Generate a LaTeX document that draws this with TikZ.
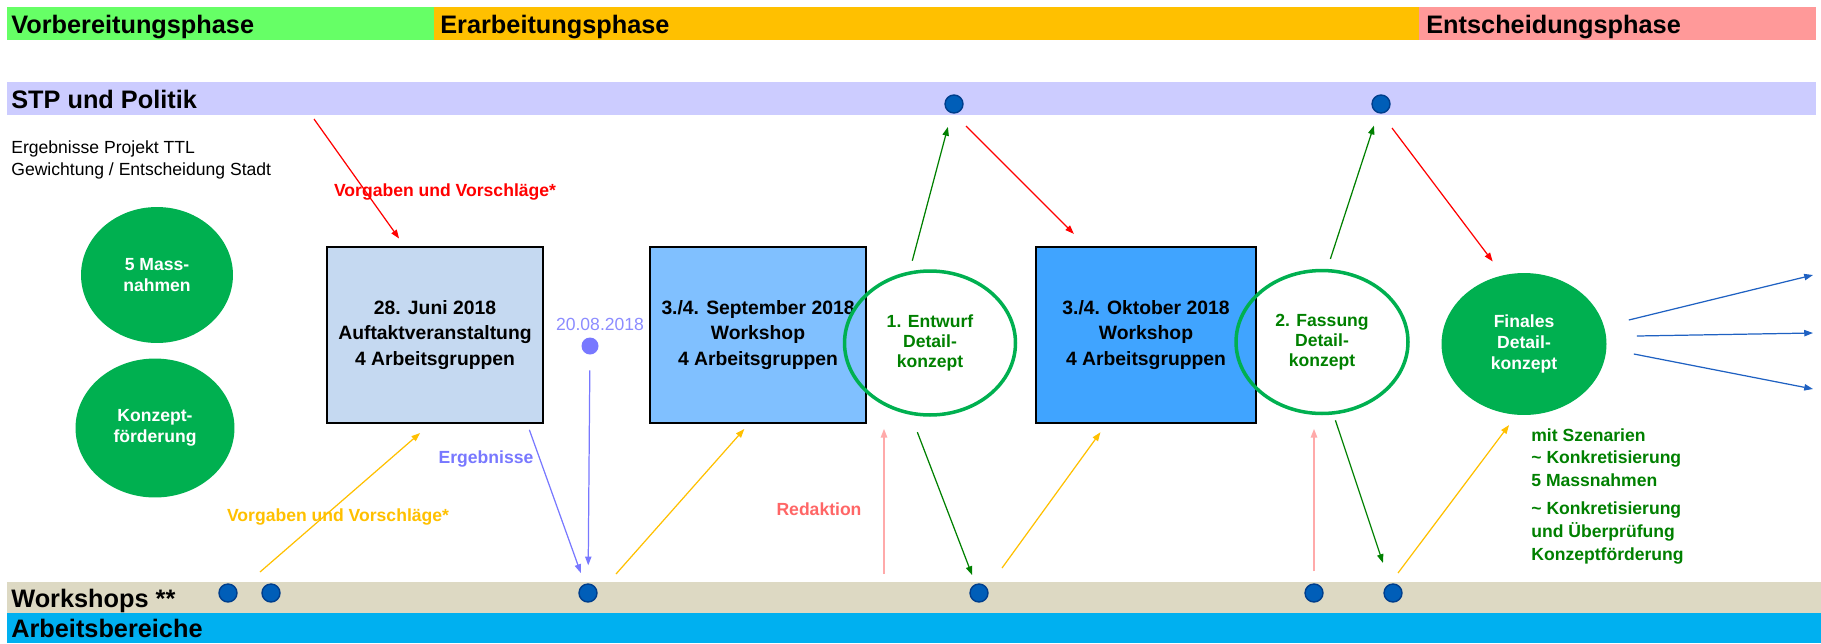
\documentclass[tikz,border=0pt]{standalone}
\usepackage{fontspec}
\setmainfont{Liberation Sans}
\usepackage{tikz}
\usetikzlibrary{arrows.meta,shapes.geometric,positioning,calc}
\definecolor{phaseGreen} {RGB}{102,255,102}
\definecolor{phaseOrange}{RGB}{255,192,0}
\definecolor{phasePink}  {RGB}{255,153,153}
\definecolor{stpLila}    {RGB}{204,204,255}
\definecolor{wsBeige}    {RGB}{221,217,195}
\definecolor{abCyan}     {RGB}{0,176,240}
\definecolor{boxOne}     {RGB}{197,217,241}
\definecolor{boxTwo}     {RGB}{128,192,255}
\definecolor{boxThree}   {RGB}{64,164,255}
\definecolor{massGreen}  {RGB}{0,176,80}
\definecolor{textGreen}  {RGB}{0,128,0}
\definecolor{dotBlue}    {RGB}{0,94,184}
\definecolor{dotEdge}    {RGB}{0,62,140}
\definecolor{ergLila}    {RGB}{120,120,255}
\definecolor{redakPink}  {RGB}{255,170,170}
\definecolor{redakText}  {RGB}{255,102,102}
\definecolor{outBlue}    {RGB}{31,97,194}

\tikzset{
  lane/.style={font=\fontsize{14.4}{16}\selectfont\bfseries,anchor=base west,inner sep=0pt},
  termin/.style={draw=black,line width=1.3pt,minimum width=4.32cm,minimum height=3.52cm,
                 align=center,inner sep=0pt,font=\fontsize{11}{14.5}\selectfont\bfseries},
  konzept/.style={ellipse,draw=massGreen,line width=2pt,align=center,inner sep=0pt,
                  text=textGreen,font=\fontsize{10}{11.5}\selectfont\bfseries},
  mass/.style={ellipse,fill=massGreen,text=white,align=center,inner sep=0pt,
               font=\fontsize{10}{11.8}\selectfont\bfseries},
  wsdot/.style={circle,fill=dotBlue,draw=dotEdge,line width=0.8pt,minimum size=0.36cm,inner sep=0pt},
  lbl/.style={font=\fontsize{10}{13}\selectfont\bfseries},
  pfeil/.style={-{Triangle[length=5pt,width=3.6pt]},line width=0.7pt}
}

\begin{document}
\begin{tikzpicture}[x=0.02cm,y=-0.02cm]
    \useasboundingbox (0,0) rectangle (1821,643);

    % ── PHASEN ─────────────────────────────────────────────
    \fill[phaseGreen]  (7,7)    rectangle (434,40);
    \fill[phaseOrange] (434,7)  rectangle (1419,40);
    \fill[phasePink]   (1419,7) rectangle (1816,40);
    \node[lane] (vor)  at (11,33)   {Vorbereitungsphase};
    \node[lane] (erar) at (440,33)  {Erarbeitungsphase};
    \node[lane] (ents) at (1426,33) {Entscheidungsphase};

    % ── BAHNEN ─────────────────────────────────────────────
    \fill[stpLila] (7,82)  rectangle (1816,115);
    \fill[wsBeige] (7,582) rectangle (1821,613);
    \fill[abCyan]  (7,613) rectangle (1821,643);
    \node[lane] (stp) at (11,108) {STP und Politik};
    \node[lane] (ws)  at (11,607) {Workshops **};
    \node[lane] (ab)  at (11,637) {Arbeitsbereiche};

    \node[anchor=west,align=left,inner sep=0pt,font=\fontsize{10}{13}\selectfont] (ttl)
      at (11,160) {Ergebnisse Projekt TTL\\Gewichtung / Entscheidung Stadt};

    % ── KNOTEN ─────────────────────────────────────────────
    \node[mass,minimum width=3.04cm,minimum height=2.72cm] (m1) at (157,275) {5 Mass-\\nahmen};
    \node[mass,minimum width=3.18cm,minimum height=2.78cm] (m2) at (155,428) {Konzept-\\förderung};

    \node[termin,fill=boxOne] (b1) at (435,335) {28. Juni 2018\\Auftaktveranstaltung\\4 Arbeitsgruppen};
    \node[termin,fill=boxTwo] (b2) at (758,335) {3./4. September 2018\\Workshop\\4 Arbeitsgruppen};
    \node[termin,fill=boxThree,minimum width=4.4cm] (b3) at (1146,335) {3./4. Oktober 2018\\Workshop\\4 Arbeitsgruppen};

    \node[konzept,minimum width=3.42cm,minimum height=2.88cm] (c1) at (930,343) {1. Entwurf\\Detail-\\konzept};
    \node[konzept,minimum width=3.44cm,minimum height=2.86cm] (c2) at (1322,342) {2. Fassung\\Detail-\\konzept};
    \node[mass,minimum width=3.3cm,minimum height=2.84cm] (fin) at (1524,344) {Finales\\Detail-\\konzept};

    \node[anchor=north west,align=left,inner sep=0pt,lbl,text=textGreen] (szen) at (1531,428)
      {mit Szenarien\\\textasciitilde{} Konkretisierung\\5 Massnahmen\\[0.1cm]
       \textasciitilde{} Konkretisierung\\und Überprüfung\\Konzeptförderung};

    % Termine
    \foreach \x [count=\i] in {954,1381}
      \node[wsdot] (sd\i) at (\x,104) {};
    \foreach \x [count=\i] in {228,271,588,979,1314,1393}
      \node[wsdot] (wd\i) at (\x,593) {};
    \node[circle,fill=ergLila,minimum size=0.34cm,inner sep=0pt] (dd) at (590,346) {};
    \node[font=\fontsize{10}{12}\selectfont,text=ergLila!85] (datum) at (600,324) {20.08.2018};

    % ── PFEILE ─────────────────────────────────────────────
    \coordinate (rA) at (314,119);
    \coordinate (rB) at (966,126);
    \coordinate (rC) at (1392,128);
    \draw[pfeil,red,shorten >=0.18cm] (rA) -- (b1.109);
    \draw[pfeil,red,shorten >=0.34cm] (rB) -- (b3.124);
    \draw[pfeil,red,shorten >=0.34cm] (rC) -- (fin.107);
    \node[lbl,text=red] (vorg1) at (445,192) {Vorgaben und Vorschläge*};

    \draw[pfeil,textGreen,shorten <=0.22cm,shorten >=0.28cm] (c1.106) -- (sd1);
    \draw[pfeil,textGreen,shorten <=0.21cm,shorten >=0.26cm] (c2.86) -- (sd2);
    \draw[pfeil,textGreen,shorten <=0.37cm,shorten >=0.19cm] (c1.255) -- (wd4);
    \draw[pfeil,textGreen,shorten <=0.12cm,shorten >=0.44cm] (c2.279) -- (wd6);

    \coordinate (oA) at (260,572);
    \coordinate (oB) at (616,574);
    \coordinate (oC) at (1002,568);
    \coordinate (oD) at (1398,573);
    \draw[pfeil,phaseOrange,shorten >=0.27cm] (oA) -- (b1.267);
    \draw[pfeil,phaseOrange,shorten >=0.13cm] (oB) -- (b2.264);
    \draw[pfeil,phaseOrange,shorten >=0.20cm] (oC) -- (b3.246);
    \draw[pfeil,phaseOrange,shorten >=0.25cm] (oD) -- (fin.264);
    \node[lbl,text=phaseOrange] (vorg2) at (338,517) {Vorgaben und Vorschläge*};

    \draw[pfeil,ergLila,shorten <=0.12cm,shorten >=0.23cm] (b1.-44) -- (wd3);
    \draw[pfeil,ergLila,shorten <=0.31cm,shorten >=0.36cm] (dd) -- (wd3);
    \node[lbl,text=ergLila] (erg) at (486,459) {Ergebnisse};

    \coordinate (kA) at (884,574);
    \draw[pfeil,redakPink,line width=0.9pt,shorten >=0.24cm] (kA) -- (kA |- c1.south);
    \draw[pfeil,redakPink,line width=0.9pt,shorten <=0.24cm,shorten >=0.27cm] (wd5) -- (wd5 |- c2.south);
    \node[lbl,text=redakText] (redak) at (819,509) {Redaktion};

    % nach aussen
    \foreach \dx/\dy/\ye [count=\i] in {22/-24/275,30/-8/333,27/10/389}{
      \coordinate (out\i) at (1813,\ye);
      \draw[pfeil,outBlue] ([shift={(\dx,\dy)}]fin.east) -- (out\i);
    }

\end{tikzpicture}
\end{document}
